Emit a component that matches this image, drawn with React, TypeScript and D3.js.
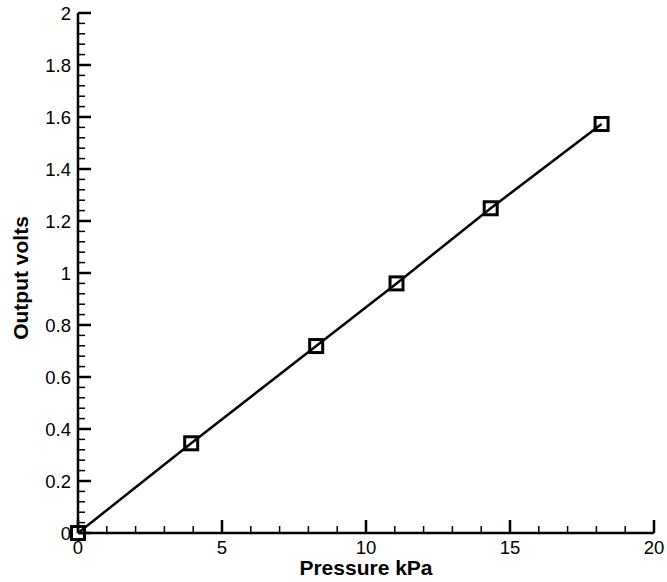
import React from "react";
import * as d3 from "d3";

const pressure = [0, 3.93, 8.27, 11.06, 14.33, 18.18];
const volts = [0, 0.345, 0.719, 0.96, 1.249, 1.573];
const xTickValues = [0, 5, 10, 15, 20];
const yTickValues = [0, 0.2, 0.4, 0.6, 0.8, 1, 1.2, 1.4, 1.6, 1.8, 2];
const xTitle = "Pressure kPa";
const yTitle = "Output volts";

const W = 667;
const H = 582;
const x = d3.scaleLinear().domain([0, 20]).range([78, 654]);
const y = d3.scaleLinear().domain([0, 2]).range([533, 13]);

export default function App() {
  const xMinor = d3.range(0, 20.001, 1).filter((v) => v % 5 !== 0);
  const yMinor = d3.range(0, 2.0001, 0.04).map((v) => +v.toFixed(2)).filter((v) => Math.abs(v / 0.2 - Math.round(v / 0.2)) > 1e-6);
  const line = d3.line<number>().x((_, i) => x(pressure[i])).y((d) => y(d));
  const font = "'Liberation Sans', Arial, Helvetica, sans-serif";
  const ms = 13;
  return (
    <svg width={W} height={H} style={{ position: "absolute", left: 0, top: 0, background: "#fff" }} fontFamily={font}>
      {xMinor.map((v) => (
        <line key={"xm" + v} x1={x(v)} x2={x(v)} y1={y(0)} y2={y(0) - 7} stroke="#000" strokeWidth={1.5} />
      ))}
      {yMinor.map((v) => (
        <line key={"ym" + v} x1={x(0)} x2={x(0) + 7} y1={y(v)} y2={y(v)} stroke="#000" strokeWidth={1.5} />
      ))}
      {xTickValues.map((v) => (
        <g key={"xt" + v}>
          <line x1={x(v)} x2={x(v)} y1={y(0)} y2={y(0) - 13} stroke="#000" strokeWidth={2.5} />
          <text x={x(v)} y={y(0) + 21} textAnchor="middle" fontSize={18.5}>{v}</text>
        </g>
      ))}
      {yTickValues.map((v) => (
        <g key={"yt" + v}>
          <line x1={x(0)} x2={x(0) + 13} y1={y(v)} y2={y(v)} stroke="#000" strokeWidth={2.5} />
          <text x={x(0) - 7} y={y(v) + 6.5} textAnchor="end" fontSize={18.5}>{v}</text>
        </g>
      ))}
      <line x1={x(0)} x2={x(20)} y1={y(0)} y2={y(0)} stroke="#000" strokeWidth={2.5} />
      <line x1={x(0)} x2={x(0)} y1={y(0)} y2={y(2)} stroke="#000" strokeWidth={2.5} />
      <path d={line(volts) || ""} fill="none" stroke="#000" strokeWidth={2.5} />
      {volts.map((v, i) => (
        <rect key={"m" + i} x={x(pressure[i]) - ms / 2} y={y(v) - ms / 2} width={ms} height={ms} fill="none" stroke="#000" strokeWidth={3} />
      ))}
      <text x={(x(0) + x(20)) / 2} y={575} textAnchor="middle" fontSize={21} fontWeight="bold">{xTitle}</text>
      <text transform={`translate(28,278) rotate(-90)`} textAnchor="middle" fontSize={21} fontWeight="bold">{yTitle}</text>
    </svg>
  );
}
